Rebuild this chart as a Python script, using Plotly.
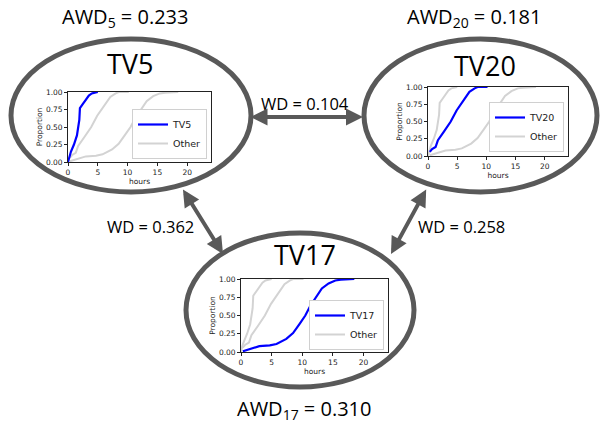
import plotly.graph_objects as go

W, H = 600, 424

# ---- data (CDF of hours) ----
tv5_hours = [0.0, 0.2, 0.5, 1.0, 1.5, 1.9, 2.0, 2.5, 3.0, 3.5, 4.0, 4.7, 5.0]
tv5_prop = [0.0, 0.08, 0.15, 0.25, 0.38, 0.6, 0.77, 0.83, 0.9, 0.95, 0.98, 1.0, 1.0]
tv20_hours = [0.3, 0.7, 1.3, 1.7, 2.7, 3.9, 4.9, 5.9, 6.7, 7.1, 8.0, 8.5, 10.2]
tv20_prop = [0.06, 0.1, 0.13, 0.23, 0.35, 0.5, 0.66, 0.78, 0.88, 0.93, 0.98, 1.0, 1.0]
tv17_hours = [0.3, 1.65, 3.0, 4.7, 5.8, 7.4, 8.5, 9.6, 10.5, 11.3, 12.4, 13.2, 14.3, 15.4, 16.3, 18.5]
tv17_prop = [0.01, 0.04, 0.08, 0.09, 0.11, 0.18, 0.26, 0.39, 0.5, 0.63, 0.76, 0.87, 0.94, 0.98, 0.99, 1.0]

tv_names = ["TV5", "TV20", "TV17"]
awd_values = ["0.233", "0.181", "0.310"]
awd_subs = ["5", "20", "17"]
wd_labels = ["WD = 0.104", "WD = 0.362", "WD = 0.258"]
y_ticks = [0.0, 0.25, 0.5, 0.75, 1.0]
x_ticks = [0, 5, 10, 15, 20]

curves = {"TV5": (tv5_hours, tv5_prop), "TV20": (tv20_hours, tv20_prop), "TV17": (tv17_hours, tv17_prop)}

def px(x):
    return x / W

def py(y):
    return 1 - y / H

FONT = "Open Sans"
GREY = "#595959"
fig = go.Figure()

# inset domains in pixels (x0, x1, ytop, ybottom)
insets = {"TV5": (68, 211, 92, 162), "TV20": (428, 568, 87, 156), "TV17": (241, 388, 279, 352)}
legend_pos = {"TV5": (207, 159), "TV20": (564, 152), "TV17": (384, 350)}
ax_ids = {"TV5": "", "TV20": "2", "TV17": "3"}

for name in tv_names:
    sid = ax_ids[name]
    leg = "legend" + sid
    first = True
    for other in tv_names:
        if other == name:
            continue
        hx, hy = curves[other]
        fig.add_trace(go.Scatter(x=hx, y=hy, mode="lines", name="Other",
                                 line=dict(color="#d3d3d3", width=2),
                                 xaxis="x" + sid, yaxis="y" + sid, legend=leg,
                                 showlegend=first, legendrank=2))
        first = False
    hx, hy = curves[name]
    fig.add_trace(go.Scatter(x=hx, y=hy, mode="lines", name=name,
                             line=dict(color="#0000ff", width=2.2),
                             xaxis="x" + sid, yaxis="y" + sid, legend=leg,
                             legendrank=1))

layout = dict(width=W, height=H, margin=dict(l=0, r=0, t=0, b=0, autoexpand=False),
              paper_bgcolor="white", plot_bgcolor="white", showlegend=True)

tickfont = dict(family="DejaVu Sans", size=7.5, color="#222")
for name in tv_names:
    sid = ax_ids[name]
    x0, x1, yt, yb = insets[name]
    layout["xaxis" + sid] = dict(domain=[px(x0), px(x1)], range=[0, 24], tickvals=x_ticks,
                                 showline=True, mirror=True, linecolor="#222", linewidth=0.8,
                                 ticks="outside", ticklen=3, tickcolor="#222", showgrid=False,
                                 zeroline=False, tickfont=tickfont, anchor="y" + sid, automargin=False,
                                 title=dict(text="hours", font=dict(family="DejaVu Sans", size=7.5, color="#222"), standoff=2))
    layout["yaxis" + sid] = dict(domain=[py(yb), py(yt)], range=[0, 1], tickvals=y_ticks,
                                 tickformat=".2f", automargin=False,
                                 showline=True, mirror=True, linecolor="#222", linewidth=0.8,
                                 ticks="outside", ticklen=3, tickcolor="#222", showgrid=False,
                                 zeroline=False, tickfont=tickfont, anchor="x" + sid,
                                 title=dict(text="Proportion", font=dict(family="DejaVu Sans", size=7.5, color="#222"), standoff=2))
    lx, ly = legend_pos[name]
    layout["legend" + sid] = dict(x=px(lx), y=py(ly), xanchor="right", yanchor="bottom",
                                  bgcolor="white", bordercolor="#d0d0d0", borderwidth=1,
                                  font=dict(family="DejaVu Sans", size=9.5, color="#222"),
                                  itemwidth=30, tracegroupgap=0)

fig.update_layout(**layout)

# ellipses (x0, x1, ytop, ybottom) in pixels
ellipses = {"TV5": (11, 251, 39, 192), "TV20": (364, 597, 39, 192), "TV17": (186, 414, 233, 387)}
for name in tv_names:
    x0, x1, yt, yb = ellipses[name]
    fig.add_shape(type="circle", xref="paper", yref="paper",
                  x0=px(x0), x1=px(x1), y0=py(yb), y1=py(yt),
                  line=dict(color=GREY, width=5), fillcolor="rgba(0,0,0,0)", layer="below")

def label(x, y, text, size):
    fig.add_annotation(x=px(x), y=py(y), xref="paper", yref="paper", text=text,
                       xanchor="center", yanchor="middle",
                       showarrow=False, font=dict(family=FONT, size=size, color="black"))

# titles
title_pos = {"TV5": (130, 64), "TV20": (485, 65), "TV17": (305, 255)}
for name in tv_names:
    x, y = title_pos[name]
    label(x, y, name, 27)

awd_pos = {"TV5": (125, 17), "TV20": (474, 17), "TV17": (304, 409)}
for name, sub, val in zip(tv_names, awd_subs, awd_values):
    x, y = awd_pos[name]
    label(x, y, "AWD<sub>" + sub + "</sub> = " + val, 20)

wd_pos = [(305, 103), (150, 226), (461, 226)]
for t, (x, y) in zip(wd_labels, wd_pos):
    label(x, y, t, 16.5)

# double-headed arrows: (start, end) in pixels
arrows = [((249, 117), (363, 117)), ((182, 188), (223, 254)), ((427, 188), (391, 254))]
for (sx, sy), (ex, ey) in arrows:
    fig.add_annotation(x=px(ex), y=py(ey), xref="paper", yref="paper",
                       ax=sx - ex, ay=sy - ey, axref="pixel", ayref="pixel",
                       text="", showarrow=True, arrowhead=2, startarrowhead=2,
                       arrowside="end+start", arrowsize=0.85, startarrowsize=0.85,
                       arrowwidth=4, arrowcolor=GREY, standoff=0, startstandoff=0)

fig.write_html("out.html", config={"displayModeBar": False},
               post_script="document.body.style.margin='0';")
